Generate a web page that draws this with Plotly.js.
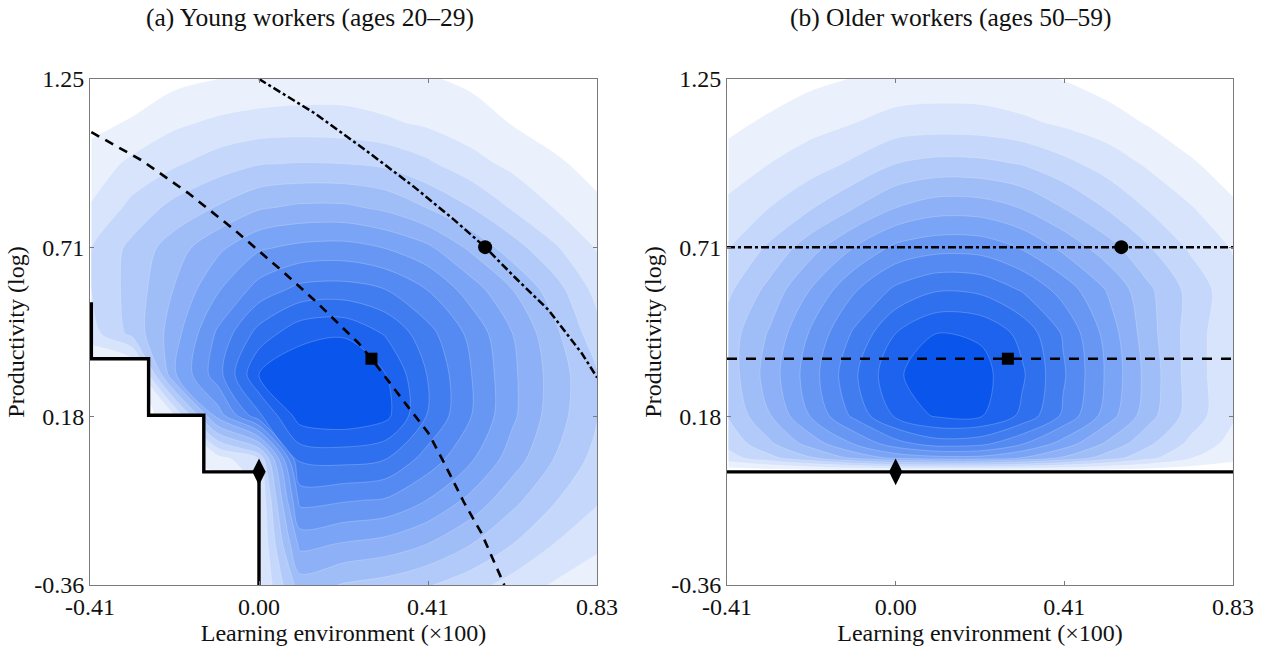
<!DOCTYPE html>
<html>
<head>
<meta charset="utf-8">
<script src="https://cdn.plot.ly/plotly-3.0.1.min.js"></script>
<style>html,body{margin:0;padding:0;background:#fff}</style>
</head>
<body>
<div id="chart" style="width:1269px;height:649px"></div>
<script>
// Learning-environment grid (x, ×100) shared by both density panels
const gridX = [-0.41, -0.31, -0.21, -0.10, 0.00, 0.10, 0.21, 0.31, 0.41, 0.52, 0.62, 0.72, 0.83];

// Young workers: productivity grid and density level (rows bottom -> top)
const youngY = [-0.36, -0.23, -0.09, 0.04, 0.18, 0.31, 0.44, 0.58, 0.71, 0.84, 0.98, 1.11, 1.25];
const youngDensity = [
  [0, 0, 0, 0, 1.8, 5.5, 4.9, 4.6, 4.1, 3.4, 2.6, 1.9, 1.3],
  [0, 0, 0, 0, 1.8, 7.3, 6.9, 6.6, 6.0, 5.0, 4.0, 3.0, 2.2],
  [0, 0, 0, 0, 1.8, 9.3, 9.1, 8.9, 8.0, 6.7, 5.3, 4.1, 3.1],
  [0, 0, 1.0, 1.5, 3.0, 11.2, 11.3, 11.0, 9.6, 8.1, 6.5, 5.0, 3.6],
  [0, 0, 1.8, 7.5, 10.8, 13.5, 13.8, 13.3, 11.0, 9.0, 7.2, 5.5, 4.0],
  [0.5, 0.5, 6.8, 9.6, 13.0, 13.7, 13.8, 13.0, 11.0, 9.0, 7.2, 5.6, 4.0],
  [2.6, 4.3, 6.5, 9.2, 11.4, 12.7, 12.9, 11.9, 10.4, 8.7, 7.0, 5.3, 3.3],
  [3.0, 4.4, 6.0, 7.9, 9.4, 10.3, 10.4, 10.0, 9.0, 7.5, 6.0, 4.5, 2.6],
  [3.0, 4.3, 5.5, 6.8, 7.9, 8.3, 8.4, 8.0, 7.3, 5.8, 4.5, 3.2, 1.9],
  [2.1, 3.3, 4.3, 5.1, 5.9, 6.2, 6.2, 5.8, 5.0, 4.0, 2.9, 2.0, 1.2],
  [1.4, 2.25, 2.85, 3.5, 3.95, 4.05, 4.0, 3.8, 3.2, 2.35, 1.75, 1.2, 0.6],
  [0.75, 1.1, 1.8, 2.2, 2.4, 2.45, 2.4, 2.15, 1.85, 1.45, 0.95, 0.5, 0.2],
  [0.2, 0.4, 0.7, 1.0, 1.2, 1.35, 1.4, 1.3, 1.1, 0.8, 0.4, 0.15, 0.05]
];

// Older workers: productivity grid and density level (rows bottom -> top)
const olderY = [-0.36, 0.0, 0.045, 0.09, 0.18, 0.31, 0.44, 0.58, 0.71, 0.84, 0.98, 1.11, 1.25];
const olderDensity = [
  [0, 0, 0, 0, 0, 0, 0, 0, 0, 0, 0, 0, 0],
  [0.3, 0.3, 0.3, 0.3, 0.3, 0.3, 0.3, 0.3, 0.3, 0.3, 0.3, 0.3, 0.3],
  [2.6, 3.7, 4.9, 6.3, 7.3, 7.7, 7.7, 7.0, 5.9, 4.5, 3.3, 2.1, 1.3],
  [3.3, 4.8, 6.4, 8.1, 9.6, 10.5, 10.3, 9.1, 7.6, 5.8, 4.2, 2.8, 1.6],
  [4.1, 5.95, 8.05, 10.3, 12.2, 13.15, 13.1, 11.8, 9.85, 7.5, 5.4, 3.6, 2.1],
  [4.45, 6.45, 8.5, 10.85, 12.85, 13.6, 13.35, 12.15, 10.15, 7.8, 5.6, 3.6, 2.1],
  [4.5, 6.1, 8.1, 10.2, 12.0, 13.0, 12.85, 11.7, 9.9, 7.6, 5.4, 3.6, 2.1],
  [3.8, 5.3, 7.0, 8.9, 10.2, 10.9, 10.75, 9.9, 8.6, 6.9, 5.2, 3.7, 2.3],
  [3.0, 4.2, 5.6, 7.1, 8.3, 8.7, 8.65, 7.95, 6.8, 5.45, 4.1, 2.9, 1.9],
  [2.25, 3.0, 3.9, 5.0, 6.0, 6.55, 6.5, 5.95, 5.0, 3.9, 2.9, 2.1, 1.15],
  [1.45, 2.0, 2.5, 3.2, 4.0, 4.3, 4.25, 3.95, 3.3, 2.55, 1.85, 1.15, 0.47],
  [0.72, 1.2, 1.65, 2.0, 2.4, 2.5, 2.45, 2.2, 1.85, 1.45, 0.92, 0.4, 0.15],
  [0.15, 0.35, 0.75, 1.05, 1.3, 1.38, 1.37, 1.2, 0.97, 0.55, 0.25, 0.08, 0.0]
];

// Young workers: exit threshold (step), and the two iso-productivity curves
const youngExitX = [-0.41, -0.41, -0.27, -0.27, -0.135, -0.135, 0.0, 0.0];
const youngExitY = [0.54, 0.36, 0.36, 0.18, 0.18, 0.0, 0.0, -0.36];
const youngMidX = [-0.41, -0.288, -0.173, -0.06, 0.062, 0.135, 0.243, 0.275, 0.365, 0.414, 0.453, 0.502, 0.544, 0.593, 0.60];
const youngMidY = [1.081, 0.992, 0.887, 0.77, 0.633, 0.547, 0.41, 0.36, 0.206, 0.124, 0.028, -0.099, -0.195, -0.335, -0.36];
const youngHighX = [0.0, 0.055, 0.135, 0.25, 0.38, 0.478, 0.553, 0.625, 0.708, 0.789, 0.827];
const youngHighY = [1.25, 1.205, 1.142, 1.034, 0.906, 0.801, 0.715, 0.62, 0.515, 0.378, 0.30];

// Older workers: flat threshold and iso-productivity lines
const olderLineX = [-0.4133, 0.8267];
const olderExitY = [0.0, 0.0];
const olderMidY = [0.36, 0.36];
const olderHighY = [0.715, 0.715];

// Highlighted workers (diamond, square, circle) in each panel
const youngPointsX = [0.0, 0.275, 0.553];
const youngPointsY = [0.0, 0.36, 0.715];
const olderPointsX = [0.0, 0.275, 0.553];
const olderPointsY = [0.0, 0.36, 0.715];
const pointSymbols = ['diamond-tall', 'square', 'circle'];
const pointSizes = [19, 12, 14];

// Axis ticks
const xRange = [-0.4133, 0.8267];
const yRange = [-0.36, 1.25];
const xTickVals = [-0.4133, 0.0, 0.4133, 0.8267];
const xTickText = ['-0.41', '0.00', '0.41', '0.83'];
const yTickVals = [-0.36, 0.1767, 0.7133, 1.25];
const yTickText = ['-0.36', '0.18', '0.71', '1.25'];

const titles = ['(a) Young workers (ages 20\u201329)', '(b) Older workers (ages 50\u201359)'];
const xTitle = 'Learning environment (\u00d7100)';
const yTitle = 'Productivity (log)';

const serif = "'Liberation Serif', 'Times New Roman', serif";
const textSize = 24;
const titleSize = 25.5;
const blues = [[0, 'rgb(255,255,255)'], [1 / 13, 'rgb(234,241,253)'], [1, 'rgb(10,86,236)']];

function densityTrace(y, z, xa, ya) {
  return {
    type: 'contour', x: gridX, y: y, z: z, xaxis: xa, yaxis: ya,
    autocontour: false,
    contours: {start: 1, end: 13, size: 1, coloring: 'fill', showlines: true},
    colorscale: blues, showscale: false, hoverinfo: 'skip',
    line: {color: 'rgba(255,255,255,0.35)', width: 0.6, smoothing: 0.85}
  };
}

function lineTrace(x, y, xa, ya, dash, width) {
  return {type: 'scatter', mode: 'lines', x: x, y: y, xaxis: xa, yaxis: ya,
    line: {color: '#000', width: width, dash: dash}, hoverinfo: 'skip', showlegend: false};
}

function pointsTrace(x, y, xa, ya) {
  return {type: 'scatter', mode: 'markers', x: x, y: y, xaxis: xa, yaxis: ya,
    marker: {color: '#000', opacity: 1, symbol: pointSymbols, size: pointSizes, line: {width: 0}},
    hoverinfo: 'skip', showlegend: false};
}

// White mask for the region below the exit threshold
function maskTrace(exitX, exitY, xa, ya) {
  const mx = exitX.concat([exitX[exitX.length - 1], xRange[0], xRange[0]]);
  const my = exitY.concat([yRange[0], yRange[0], exitY[0]]);
  return {type: 'scatter', mode: 'none', x: mx, y: my, xaxis: xa, yaxis: ya,
    fill: 'toself', fillcolor: '#ffffff', hoverinfo: 'skip', showlegend: false};
}

const olderExitX = olderLineX;

const traces = [
  densityTrace(youngY, youngDensity, 'x', 'y'),
  maskTrace(youngExitX, youngExitY, 'x', 'y'),
  lineTrace(youngMidX, youngMidY, 'x', 'y', '9px,7px', 2.6),
  lineTrace(youngHighX, youngHighY, 'x', 'y', '8px,3px,3px,3px', 2.5),
  lineTrace(youngExitX, youngExitY, 'x', 'y', 'solid', 3.4),
  pointsTrace(youngPointsX, youngPointsY, 'x', 'y'),

  densityTrace(olderY, olderDensity, 'x2', 'y2'),
  maskTrace(olderExitX, olderExitY, 'x2', 'y2'),
  lineTrace(olderLineX, olderMidY, 'x2', 'y2', '10px,9px', 2.6),
  lineTrace(olderLineX, olderHighY, 'x2', 'y2', '8px,3px,3px,3px', 2.5),
  lineTrace(olderLineX, olderExitY, 'x2', 'y2', 'solid', 3.4),
  pointsTrace(olderPointsX, olderPointsY, 'x2', 'y2')
];

function xAxis(domain, anchor) {
  return {domain: domain, anchor: anchor, range: xRange, tickvals: xTickVals, ticktext: xTickText,
    showgrid: false, zeroline: false, showline: true, mirror: 'ticks', linecolor: '#7a7a7a', linewidth: 1,
    ticks: 'inside', ticklen: 4, tickcolor: '#7a7a7a', tickfont: {family: serif, size: textSize, color: '#111'},
    title: {text: xTitle, font: {family: serif, size: textSize, color: '#111'}, standoff: 4}, automargin: false};
}
function yAxis(anchor) {
  return {domain: [0, 1], anchor: anchor, range: yRange, tickvals: yTickVals, ticktext: yTickText,
    showgrid: false, zeroline: false, showline: true, mirror: 'ticks', linecolor: '#7a7a7a', linewidth: 1,
    ticks: 'inside', ticklen: 4, tickcolor: '#7a7a7a', tickfont: {family: serif, size: textSize, color: '#111'},
    title: {text: yTitle, font: {family: serif, size: textSize, color: '#111'}, standoff: 2}, automargin: false};
}

const layout = {
  width: 1269, height: 649,
  margin: {l: 90, r: 36, t: 79, b: 64},
  paper_bgcolor: '#fff', plot_bgcolor: '#fff',
  showlegend: false,
  xaxis: xAxis([0, 0.4436], 'y'),
  yaxis: yAxis('x'),
  xaxis2: xAxis([0.5573, 1], 'y2'),
  yaxis2: yAxis('x2'),
  annotations: [
    {text: titles[0], xref: 'x domain', yref: 'paper', x: 0.434, y: 1.1225, xanchor: 'center', yanchor: 'middle',
     showarrow: false, font: {family: serif, size: titleSize, color: '#111'}},
    {text: titles[1], xref: 'x2 domain', yref: 'paper', x: 0.441, y: 1.1225, xanchor: 'center', yanchor: 'middle',
     showarrow: false, font: {family: serif, size: titleSize, color: '#111'}}
  ]
};

Plotly.newPlot('chart', traces, layout, {displayModeBar: false, staticPlot: true});
</script>
</body>
</html>
